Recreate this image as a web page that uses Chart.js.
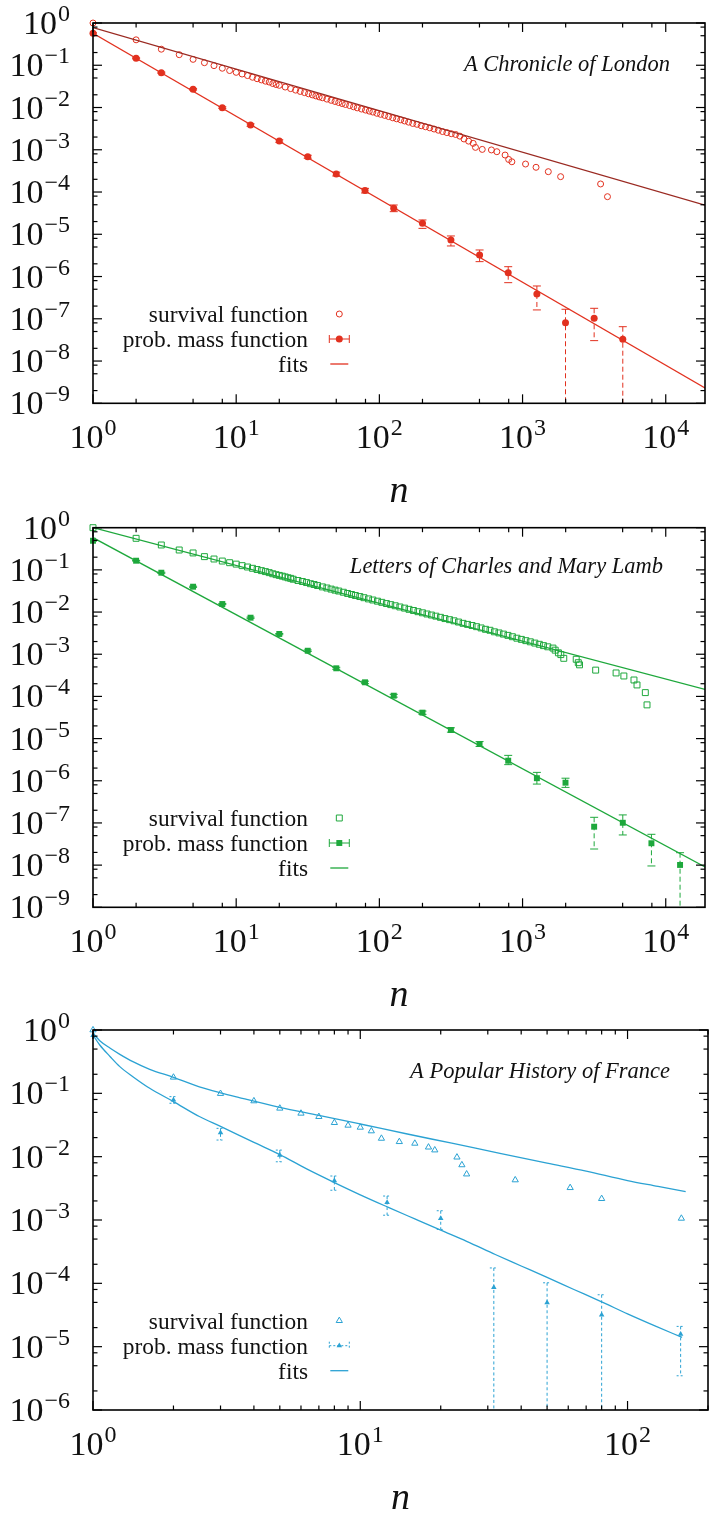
<!DOCTYPE html>
<html><head><meta charset="utf-8">
<script src="https://cdn.jsdelivr.net/npm/chart.js@4.4.1/dist/chart.umd.min.js"></script>
<style>
html,body{margin:0;padding:0;background:#fff;}
#wrap{position:relative;width:713px;height:1513px;overflow:hidden;}
canvas{position:absolute;left:0;}
</style></head><body>
<div id="wrap">
<canvas id="c1" width="713" height="505" style="top:0px;width:713px;height:505px"></canvas>
<canvas id="c2" width="713" height="503" style="top:505px;width:713px;height:503px"></canvas>
<canvas id="c3" width="713" height="505" style="top:1008px;width:713px;height:505px"></canvas>
</div>
<script>
// ---------- shared text ----------
const legendLabels = ['survival function', 'prob. mass function', 'fits'];
const axisTitle = 'n';
const titles = ['A Chronicle of London', 'Letters of Charles and Mary Lamb', 'A Popular History of France'];
const xTickExp12 = [0, 1, 2, 3, 4];
const yTickExp12 = [0, -1, -2, -3, -4, -5, -6, -7, -8, -9];
const xTickExp3 = [0, 1, 2];
const yTickExp3 = [0, -1, -2, -3, -4, -5, -6];

// ---------- Panel 1: A Chronicle of London ----------
const londonSurvN = [1,2,3,4,5,6,7,8,9,10,11,12,13,14,15,16,17,18,19,20,22,24,26,28,30,32,34,36,38,40,43,46,49,52,55,58,62,66,70,75,80,85,90,96,102,109,116,124,132,141,150,160,171,183,196,210,225,241,258,276,296,318,341,365,390,420,452,469,523,606,661,755,800,842,1049,1242,1513,1844,3508,3918];
const londonSurvS = [1.0,0.40,0.24,0.178,0.138,0.115,0.098,0.085,0.075,0.068,0.062,0.057,0.052,0.048,0.045,0.042,0.040,0.037,0.035,0.0335,0.0305,0.028,0.0258,0.024,0.0225,0.0211,0.0199,0.0188,0.0178,0.0170,0.0158,0.0148,0.0139,0.0131,0.0124,0.0118,0.0111,0.0104,0.0098,0.0092,0.0087,0.0082,0.0078,0.0073,0.0069,0.0065,0.0061,0.0057,0.0054,0.0051,0.0048,0.0045,0.0042,0.0040,0.0037,0.0035,0.0033,0.0031,0.0029,0.0027,0.00255,0.0024,0.0023,0.0021,0.0018,0.0016,0.00142,0.00114,0.00102,0.00099,0.00090,0.00075,0.00059,0.00052,0.00046,0.000385,0.000303,0.000231,0.000155,0.0000776];
const londonPmfN = [1,2,3,5,8,12.6,20,31.6,50,79.4,126,200,316,501,794,1259,1995,3162,5012];
const londonPmfP = [0.57,0.146,0.0668,0.0269,0.00993,0.00386,0.00161,6.87e-4,2.67e-4,1.08e-4,4.12e-5,1.82e-5,7.33e-6,3.24e-6,1.23e-6,3.86e-7,8.09e-8,1.03e-7,3.27e-8];
const londonPmfHi = [0.59,0.15,0.069,0.028,0.0104,0.0041,0.00172,7.4e-4,2.95e-4,1.22e-4,4.93e-5,2.18e-5,9.12e-6,4.25e-6,1.71e-6,5.98e-7,1.68e-7,1.77e-7,6.5e-8];
const londonPmfLo = [0.55,0.142,0.0646,0.026,0.0095,0.0036,0.0015,6.3e-4,2.4e-4,9.5e-5,3.43e-5,1.38e-5,5.29e-6,2.25e-6,7.16e-7,1.62e-7,0,3.04e-8,0];
const londonSurvFitN = [1, 18800];
const londonSurvFitS = [0.78, 4.9e-5];
const londonPmfFitN = [1, 18800];
const londonPmfFitP = [0.57, 2.3e-9];

// ---------- Panel 2: Letters of Charles and Mary Lamb ----------
const lambSurvN = [1,2,3,4,5,6,7,8,9,10,11,12,13,14,15,16,17,18,19,20,21,22,23,24,25,27,29,31,33,35,37,40,43,46,49,52,56,60,64,68,73,78,84,90,97,104,112,120,129,139,150,161,173,186,200,215,231,248,267,287,309,332,357,384,413,444,477,513,551,592,636,684,735,790,849,913,981,1054,1133,1218,1309,1400,1500,1630,1690,1780,1850,1940,2370,2450,2500,3240,4500,5100,6000,6300,7200,7400];
const lambSurvS = [1.0,0.56,0.389,0.296,0.252,0.206,0.181,0.162,0.148,0.137,0.126,0.117,0.109,0.102,0.096,0.091,0.086,0.081,0.077,0.074,0.071,0.068,0.065,0.063,0.060,0.056,0.053,0.050,0.047,0.045,0.0425,0.0395,0.0372,0.0350,0.0331,0.0315,0.0295,0.0276,0.0261,0.0247,0.0233,0.0219,0.0205,0.0193,0.0181,0.0170,0.0159,0.0150,0.0141,0.0132,0.0124,0.0116,0.0109,0.0102,0.0096,0.0090,0.0085,0.0080,0.0075,0.0070,0.0066,0.0062,0.0058,0.0054,0.0051,0.0048,0.0045,0.0042,0.0039,0.0037,0.0034,0.0032,0.0030,0.0028,0.0026,0.0024,0.00225,0.0021,0.00197,0.00184,0.00172,0.00160,0.00150,0.00140,0.00125,0.00108,0.00098,0.00080,0.00076,0.00063,0.00056,0.00042,0.00036,0.000305,0.000245,0.000187,0.000123,0.000063];
const lambPmfN = [1,2,3,5,8,12.6,20,31.6,50,79.4,126,200,316,501,794,1259,1995,3162,5012,7943,12589];
const lambPmfP = [0.49,0.165,0.0857,0.0399,0.0155,0.00735,0.00302,0.00121,4.64e-4,2.16e-4,1.04e-4,4.12e-5,1.6e-5,7.45e-6,2.99e-6,1.15e-6,9.0e-7,8.15e-8,1.01e-7,3.3e-8,1.01e-8];
const lambPmfHi = [0.5,0.168,0.088,0.041,0.016,0.0076,0.0031,0.00126,4.9e-4,2.3e-4,1.12e-4,4.5e-5,1.8e-5,8.5e-6,4.0e-6,1.58e-6,1.15e-6,1.36e-7,1.55e-7,5.38e-8,1.97e-8];
const lambPmfLo = [0.48,0.162,0.083,0.0385,0.015,0.0071,0.0029,0.00116,4.4e-4,2.0e-4,9.6e-5,3.75e-5,1.42e-5,6.5e-6,2.41e-6,8.35e-7,6.97e-7,2.41e-8,5.19e-8,9.55e-9,0];
const lambSurvFitN = [1, 18800];
const lambSurvFitS = [1.0, 1.47e-4];
const lambPmfFitN = [1, 18800];
const lambPmfFitP = [0.58, 9e-9];

// ---------- Panel 3: A Popular History of France ----------
const franceSurvN = [1,2,3,4,5,6,7,8,9,10,11,12,14,16,18,19,23,24,25,38,61,80,159];
const franceSurvS = [1.0,0.179,0.099,0.0757,0.058,0.0483,0.0428,0.0344,0.0312,0.029,0.0254,0.0194,0.0172,0.0162,0.0141,0.0127,0.0098,0.0074,0.0053,0.00428,0.00323,0.00217,0.00106];
const francePmfN = [1,2,3,5,8,12.6,20,31.6,50,80,158];
const francePmfP = [0.82,0.0785,0.0239,0.0106,0.00417,0.0019,0.00106,8.6e-5,4.94e-5,3.16e-5,1.58e-5];
const francePmfHi = [0.86,0.0887,0.028,0.0127,0.00495,0.00239,0.0014,1.75e-4,1.02e-4,6.6e-5,2.09e-5];
const francePmfLo = [0.78,0.0697,0.0183,0.0083,0.00295,0.00119,0.00071,0,0,0,3.47e-6];
const franceSurvFitN = [1,1.06,1.16,1.26,1.41,1.63,2,2.5,3,3.5,5,7,10,15,22,32,50,70,100,130,165];
const franceSurvFitS = [0.89,0.678,0.514,0.413,0.316,0.239,0.179,0.127,0.102,0.0865,0.0602,0.045,0.0328,0.0228,0.0163,0.0117,0.0079,0.0059,0.0042,0.0034,0.0028];
const francePmfFitN = [1,1.06,1.16,1.26,1.41,1.63,2,2.5,3,4,5,6.3,8,10,12.8,16,20,25,32,40,50,63,80,100,126,160];
const francePmfFitP = [0.83,0.58,0.379,0.264,0.183,0.12,0.074,0.043,0.03,0.0168,0.0108,0.0064,0.0039,0.0025,0.00157,0.00104,0.00069,0.00046,0.000285,0.000188,0.000124,0.00008,0.000051,0.000033,0.0000215,0.000014];

// ---------- helpers ----------
const SERIF = '"Liberation Serif","Times New Roman",serif';
const zip = (xs, ys) => xs.map((x, i) => ({x: x, y: ys[i]}));

function drawPow10(ctx, exp, x, y, align) {
  const base = '10';
  const sup = exp < 0 ? '\u2212' + (-exp) : String(exp);
  ctx.font = '34px ' + SERIF;
  const wb = ctx.measureText(base).width;
  ctx.font = '24px ' + SERIF;
  const ws = ctx.measureText(sup).width;
  const total = wb + 1 + ws;
  const x0 = align === 'center' ? x - total / 2 : x - total;
  ctx.textAlign = 'left';
  ctx.textBaseline = 'alphabetic';
  ctx.font = '34px ' + SERIF;
  ctx.fillText(base, x0, y);
  ctx.font = '24px ' + SERIF;
  ctx.fillText(sup, x0 + wb + 1, y - 13);
}

function shape(ctx, style, x, y, r, filled, color) {
  ctx.save();
  ctx.setLineDash([]);
  ctx.lineWidth = 1;
  ctx.strokeStyle = color; ctx.fillStyle = color;
  ctx.beginPath();
  if (style === 'circle') ctx.arc(x, y, r, 0, Math.PI * 2);
  else if (style === 'rect') { const s = r * Math.SQRT1_2; ctx.rect(x - s, y - s, 2 * s, 2 * s); }
  else { let a = 0; ctx.moveTo(x + Math.sin(a) * r, y - Math.cos(a) * r); a += 2 * Math.PI / 3; ctx.lineTo(x + Math.sin(a) * r, y - Math.cos(a) * r); a += 2 * Math.PI / 3; ctx.lineTo(x + Math.sin(a) * r, y - Math.cos(a) * r); ctx.closePath(); }
  if (filled) ctx.fill(); else ctx.stroke();
  ctx.restore();
}

function makePlugin(P) {
  return {
    id: 'gp' + P.id,
    beforeDatasetsDraw(chart) {
      const ctx = chart.ctx, a = chart.chartArea, xs = chart.scales.x, ys = chart.scales.y;
      ctx.save();
      ctx.beginPath(); ctx.rect(a.left, a.top, a.right - a.left, a.bottom - a.top); ctx.clip();
      ctx.strokeStyle = P.color; ctx.lineWidth = 1;
      for (let i = 0; i < P.errN.length; i++) {
        const x = xs.getPixelForValue(P.errN[i]);
        const yh = ys.getPixelForValue(P.errHi[i]);
        const yl = P.errLo[i] > 0 ? ys.getPixelForValue(P.errLo[i]) : a.bottom;
        ctx.setLineDash(P.errDash);
        ctx.beginPath(); ctx.moveTo(x, yh); ctx.lineTo(x, yl); ctx.stroke();
        ctx.setLineDash(P.capDash);
        ctx.beginPath(); ctx.moveTo(x - 4, yh); ctx.lineTo(x + 4, yh);
        if (P.errLo[i] > 0) { ctx.moveTo(x - 4, yl); ctx.lineTo(x + 4, yl); }
        ctx.stroke();
      }
      ctx.restore();
    },
    afterDatasetsDraw(chart) {
      const ctx = chart.ctx, a = chart.chartArea, xs = chart.scales.x, ys = chart.scales.y;
      ctx.save();
      ctx.setLineDash([]);
      ctx.strokeStyle = '#000'; ctx.fillStyle = '#111';
      ctx.lineWidth = 1.2;
      const tick = (x1, y1, x2, y2) => { ctx.beginPath(); ctx.moveTo(x1, y1); ctx.lineTo(x2, y2); ctx.stroke(); };
      for (const e of P.xExp) {
        const px = xs.getPixelForValue(Math.pow(10, e));
        tick(px, a.bottom, px, a.bottom - 9); tick(px, a.top, px, a.top + 9);
        for (const m of P.xMinor) {
          const v = m * Math.pow(10, e);
          if (v > P.xMax) continue;
          const q = xs.getPixelForValue(v);
          tick(q, a.bottom, q, a.bottom - 4.5); tick(q, a.top, q, a.top + 4.5);
        }
      }
      for (const e of P.yExp) {
        const py = ys.getPixelForValue(Math.pow(10, e));
        tick(a.left, py, a.left + 9, py); tick(a.right, py, a.right - 9, py);
        for (const m of P.yMinor) {
          const v = m * Math.pow(10, e);
          if (v > P.yMax || v < P.yMin) continue;
          const q = ys.getPixelForValue(v);
          tick(a.left, q, a.left + 4.5, q); tick(a.right, q, a.right - 4.5, q);
        }
      }
      ctx.lineWidth = 1.6;
      ctx.strokeRect(a.left, a.top, a.right - a.left, a.bottom - a.top);
      for (const e of P.xExp) drawPow10(ctx, e, xs.getPixelForValue(Math.pow(10, e)), a.bottom + 45, 'center');
      for (const e of P.yExp) drawPow10(ctx, e, 70, ys.getPixelForValue(Math.pow(10, e)) + 11, 'right');
      ctx.font = 'italic 38px ' + SERIF; ctx.textAlign = 'center'; ctx.textBaseline = 'alphabetic';
      ctx.fillText(axisTitle, (a.left + a.right) / 2, a.bottom + 99);
      ctx.font = 'italic 22.5px ' + SERIF; ctx.textAlign = 'right';
      ctx.fillText(P.title, P.titleRight, a.top + P.titleDy);
      ctx.font = '23.4px ' + SERIF; ctx.textAlign = 'right';
      const lx = 308, sx = 339.3;
      const bases = [a.bottom - 81.3, a.bottom - 56.3, a.bottom - 31.3];
      legendLabels.forEach((t, i) => ctx.fillText(t, lx, bases[i]));
      shape(ctx, P.style, sx, bases[0] - 8, P.survR, false, P.color);
      ctx.strokeStyle = P.color; ctx.lineWidth = 1;
      const y2 = bases[1] - 8;
      ctx.setLineDash(P.capDash);
      ctx.beginPath(); ctx.moveTo(sx - 10, y2); ctx.lineTo(sx + 10, y2);
      ctx.moveTo(sx - 10, y2 - 4); ctx.lineTo(sx - 10, y2 + 4);
      ctx.moveTo(sx + 10, y2 - 4); ctx.lineTo(sx + 10, y2 + 4); ctx.stroke();
      ctx.setLineDash([]);
      shape(ctx, P.style, sx, y2, P.pmfR, true, P.color);
      ctx.lineWidth = 1.3; ctx.strokeStyle = P.color;
      ctx.beginPath(); ctx.moveTo(sx - 9, bases[2] - 8); ctx.lineTo(sx + 9, bases[2] - 8); ctx.stroke();
      ctx.restore();
    }
  };
}

function build(P) {
  new Chart(document.getElementById(P.canvas), {
    type: 'scatter',
    data: {
      datasets: [
        { data: zip(P.survFitN, P.survFitS), showLine: true, borderColor: P.survFitColor, borderWidth: 1.3, pointRadius: 0, fill: false, cubicInterpolationMode: P.smooth ? 'monotone' : 'default' },
        { data: zip(P.pmfFitN, P.pmfFitP), showLine: true, borderColor: P.color, borderWidth: 1.3, pointRadius: 0, fill: false, cubicInterpolationMode: P.smooth ? 'monotone' : 'default' },
        { data: zip(P.survN, P.survS), pointStyle: P.style, pointRadius: P.survR, borderColor: P.color, backgroundColor: 'rgba(0,0,0,0)', borderWidth: 1, clip: false },
        { data: zip(P.pmfN, P.pmfP), pointStyle: P.style, pointRadius: P.pmfR, borderColor: P.color, backgroundColor: P.color, borderWidth: 0, clip: false }
      ]
    },
    options: {
      responsive: false, animation: false, events: [],
      layout: { padding: P.pad },
      plugins: { legend: { display: false }, tooltip: { enabled: false }, title: { display: false } },
      scales: {
        x: { type: 'logarithmic', min: P.xMin, max: P.xMax, display: false },
        y: { type: 'logarithmic', min: P.yMin, max: P.yMax, display: false }
      }
    },
    plugins: [makePlugin(P)]
  });
}

const RED = '#e2311f', DARKRED = '#9a2a22', GREEN = '#1ea83c', BLUE = '#2ba2d3';

build({ id: 1, canvas: 'c1', pad: { left: 93, top: 23, right: 8, bottom: 101.7 },
  xMin: 1, xMax: 1.88e4, yMin: 1e-9, yMax: 1, xExp: xTickExp12, yExp: yTickExp12, xMinor: [2, 5, 8], yMinor: [2, 5, 8],
  color: RED, survFitColor: DARKRED, style: 'circle', survR: 3, pmfR: 3.5, smooth: false,
  survN: londonSurvN, survS: londonSurvS, pmfN: londonPmfN, pmfP: londonPmfP,
  errN: londonPmfN, errHi: londonPmfHi, errLo: londonPmfLo, errDash: [5, 3], capDash: [],
  survFitN: londonSurvFitN, survFitS: londonSurvFitS, pmfFitN: londonPmfFitN, pmfFitP: londonPmfFitP,
  title: titles[0], titleRight: 670, titleDy: 47.7 });

build({ id: 2, canvas: 'c2', pad: { left: 93, top: 22.7, right: 8, bottom: 100.7 },
  xMin: 1, xMax: 1.88e4, yMin: 1e-9, yMax: 1, xExp: xTickExp12, yExp: yTickExp12, xMinor: [2, 5, 8], yMinor: [2, 5, 8],
  color: GREEN, survFitColor: GREEN, style: 'rect', survR: 4.2, pmfR: 4.2, smooth: false,
  survN: lambSurvN, survS: lambSurvS, pmfN: lambPmfN, pmfP: lambPmfP,
  errN: lambPmfN, errHi: lambPmfHi, errLo: lambPmfLo, errDash: [5, 3], capDash: [],
  survFitN: lambSurvFitN, survFitS: lambSurvFitS, pmfFitN: lambPmfFitN, pmfFitP: lambPmfFitP,
  title: titles[1], titleRight: 663, titleDy: 45.3 });

build({ id: 3, canvas: 'c3', pad: { left: 93, top: 22, right: 4, bottom: 103 },
  xMin: 1, xMax: 200, yMin: 1e-6, yMax: 1, xExp: xTickExp3, yExp: yTickExp3, xMinor: [2, 3, 4, 5, 6, 7, 8, 9], yMinor: [2, 5, 8],
  color: BLUE, survFitColor: BLUE, style: 'triangle', survR: 3.6, pmfR: 3.2, smooth: true,
  survN: franceSurvN, survS: franceSurvS, pmfN: francePmfN, pmfP: francePmfP,
  errN: francePmfN, errHi: francePmfHi, errLo: francePmfLo, errDash: [3, 2.5], capDash: [2, 2],
  survFitN: franceSurvFitN, survFitS: franceSurvFitS, pmfFitN: francePmfFitN, pmfFitP: francePmfFitP,
  title: titles[2], titleRight: 670, titleDy: 48 });
</script>
</body></html>
